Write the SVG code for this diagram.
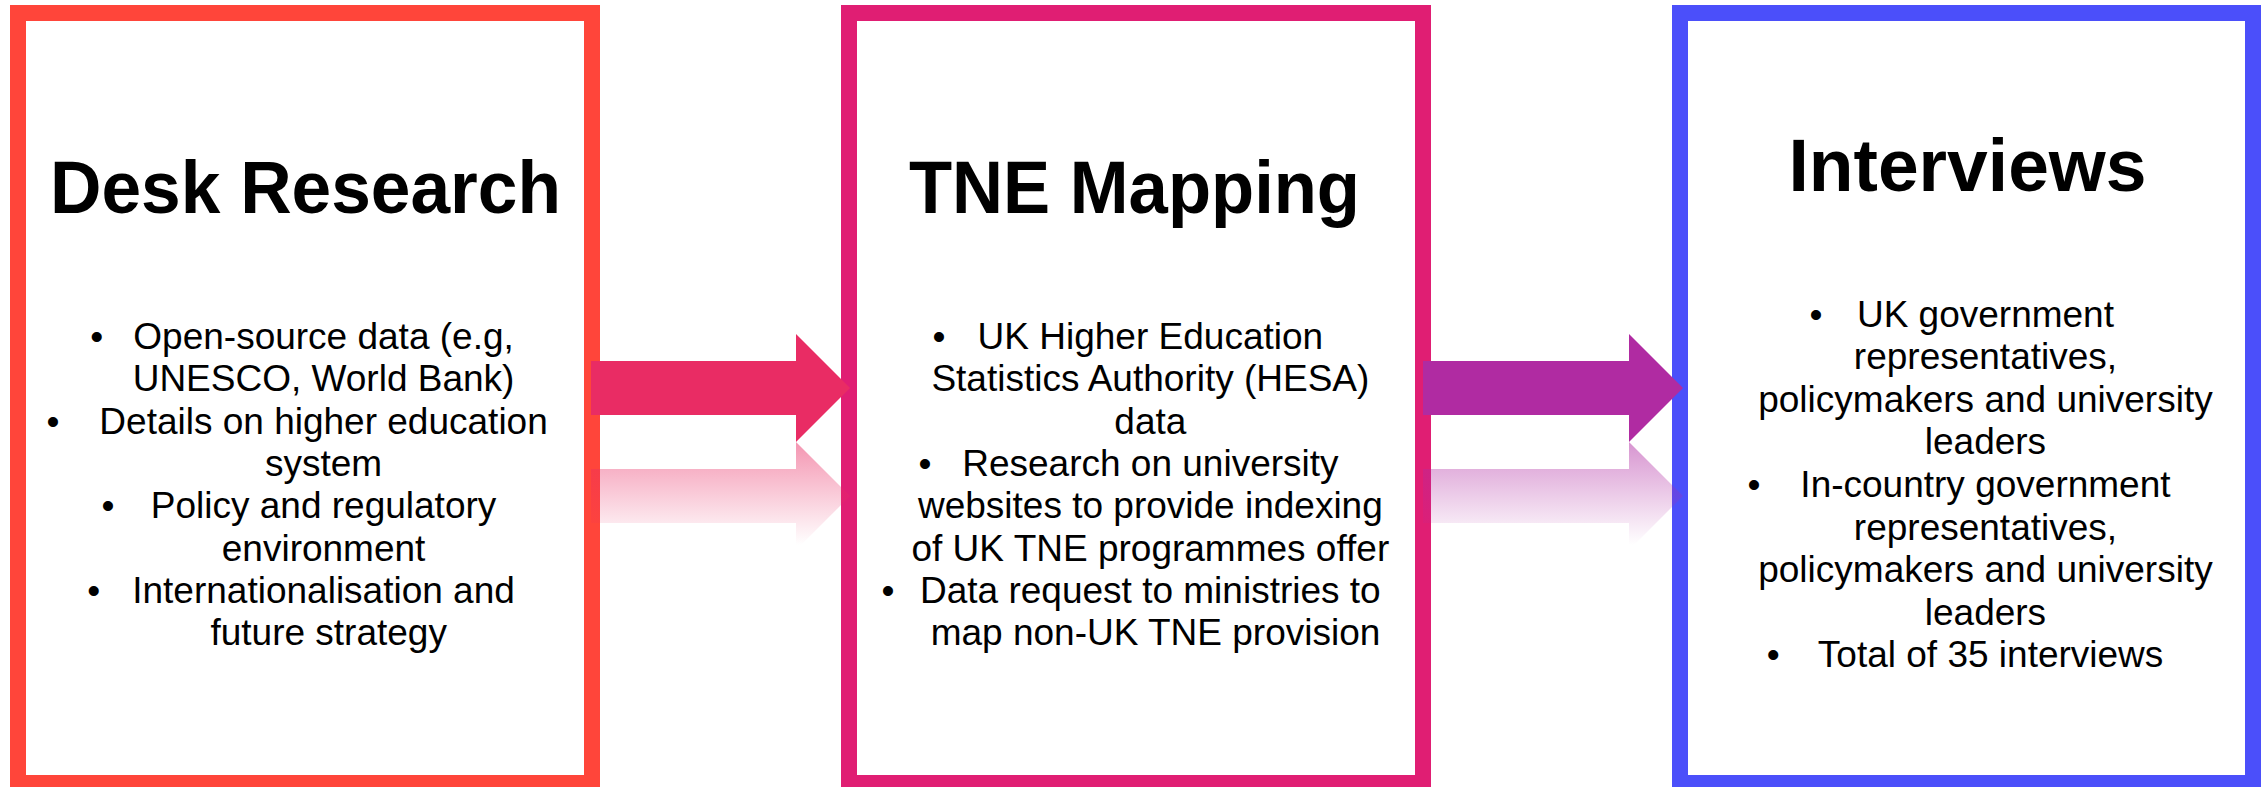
<svg xmlns="http://www.w3.org/2000/svg" width="2267" height="787" viewBox="0 0 2267 787">
<style>
.box{fill:#FFFFFF;stroke-width:16}
.title{font-family:"Liberation Sans",Arial,sans-serif;font-weight:bold;font-size:74px;fill:#000;text-anchor:middle}
.body{font-family:"Liberation Sans",Arial,sans-serif;font-size:37px;fill:#000;text-anchor:middle}
</style>
<defs>
<linearGradient id="refl1" gradientUnits="userSpaceOnUse" x1="0" y1="442" x2="0" y2="545">
<stop offset="0" stop-color="#E92C64" stop-opacity="0.5"/>
<stop offset="1" stop-color="#E92C64" stop-opacity="0"/>
</linearGradient>
<linearGradient id="refl2" gradientUnits="userSpaceOnUse" x1="0" y1="442" x2="0" y2="545">
<stop offset="0" stop-color="#B02BA2" stop-opacity="0.5"/>
<stop offset="1" stop-color="#B02BA2" stop-opacity="0"/>
</linearGradient>
</defs>
<rect width="2267" height="787" fill="#FFFFFF"/>
<g id="desk-research">
<rect class="box" x="18" y="13" width="574" height="770" stroke="#FF453A"/>
<text class="title" x="305.5" y="212.7" textLength="511" lengthAdjust="spacingAndGlyphs">Desk Research</text>
<text class="body">
<tspan x="101.8" y="349">•</tspan>
<tspan x="58" y="433.6">•</tspan>
<tspan x="113" y="518.2">•</tspan>
<tspan x="93.8" y="602.8">•</tspan>
</text>
<text class="body">
<tspan x="328.7" y="349">Open-source data (e.g,</tspan>
<tspan x="328.7" y="391.3">UNESCO, World Bank)</tspan>
<tspan x="328.7" y="433.6">Details on higher education</tspan>
<tspan x="328.7" y="475.9">system</tspan>
<tspan x="328.7" y="518.2">Policy and regulatory</tspan>
<tspan x="328.7" y="560.5">environment</tspan>
<tspan x="328.7" y="602.8">Internationalisation and</tspan>
<tspan x="328.7" y="645.1">future strategy</tspan>
</text>
</g>
<g id="tne-mapping">
<rect class="box" x="849" y="13" width="574" height="770" stroke="#E01E73"/>
<text class="title" x="1134.5" y="212.7" textLength="451" lengthAdjust="spacingAndGlyphs">TNE Mapping</text>
<text class="body">
<tspan x="944" y="349">•</tspan>
<tspan x="930" y="475.9">•</tspan>
<tspan x="888" y="602.8">•</tspan>
</text>
<text class="body">
<tspan x="1155.5" y="349">UK Higher Education</tspan>
<tspan x="1155.5" y="391.3">Statistics Authority (HESA)</tspan>
<tspan x="1155.5" y="433.6">data</tspan>
<tspan x="1155.5" y="475.9">Research on university</tspan>
<tspan x="1155.5" y="518.2">websites to provide indexing</tspan>
<tspan x="1155.5" y="560.5">of UK TNE programmes offer</tspan>
<tspan x="1155.5" y="602.8">Data request to ministries to</tspan>
<tspan x="1155.5" y="645.1">map non-UK TNE provision</tspan>
</text>
</g>
<g id="interviews">
<rect class="box" x="1680" y="13" width="573" height="770" stroke="#4B4FFA"/>
<text class="title" x="1967.5" y="191" textLength="358" lengthAdjust="spacingAndGlyphs">Interviews</text>
<text class="body">
<tspan x="1821.2" y="326.5">•</tspan>
<tspan x="1759.2" y="496.9">•</tspan>
<tspan x="1773.2" y="667.3">•</tspan>
</text>
<text class="body">
<tspan x="1990.6" y="326.5">UK government</tspan>
<tspan x="1990.6" y="369.1">representatives,</tspan>
<tspan x="1990.6" y="411.7">policymakers and university</tspan>
<tspan x="1990.6" y="454.3">leaders</tspan>
<tspan x="1990.6" y="496.9">In-country government</tspan>
<tspan x="1990.6" y="539.5">representatives,</tspan>
<tspan x="1990.6" y="582.1">policymakers and university</tspan>
<tspan x="1990.6" y="624.7">leaders</tspan>
<tspan x="1990.6" y="667.3">Total of 35 interviews</tspan>
</text>
</g>
<g id="connectors">
<polygon points="591,361 796,361 796,334 850,388 796,442 796,415 591,415" fill="#E92C64"/>
<polygon points="591,523 796,523 796,550 850,496 796,442 796,469 591,469" fill="url(#refl1)"/>
<polygon points="1423,361 1629,361 1629,334 1683,388 1629,442 1629,415 1423,415" fill="#B02BA2"/>
<polygon points="1423,523 1629,523 1629,550 1683,496 1629,442 1629,469 1423,469" fill="url(#refl2)"/>
</g>
</svg>
